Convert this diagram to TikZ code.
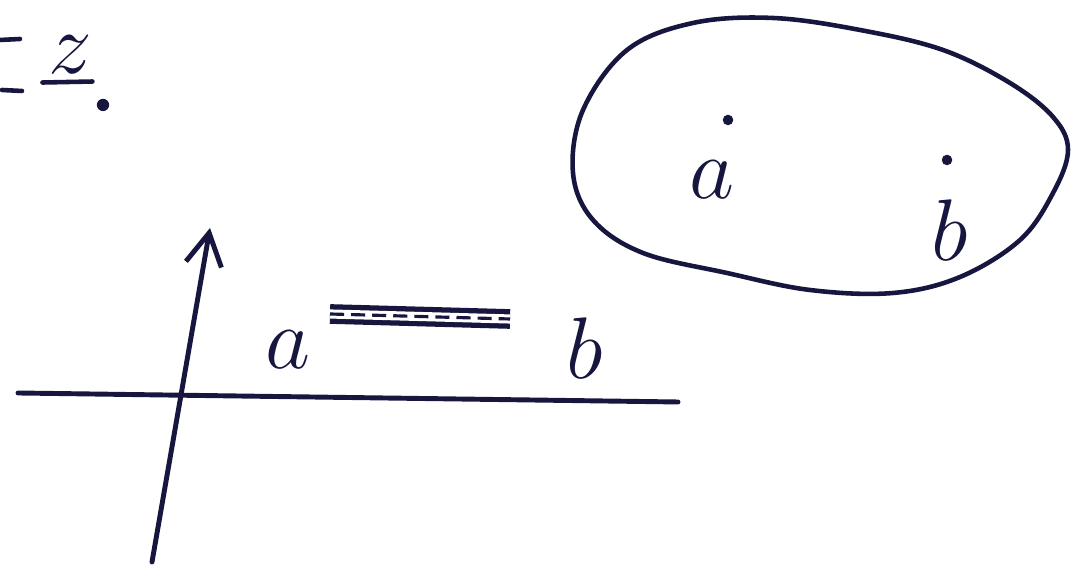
\documentclass[tikz,border=0pt]{standalone}
\usetikzlibrary{arrows.meta}
\definecolor{ink}{RGB}{22,22,62}

\begin{document}
\begin{tikzpicture}[
    pen/.style={draw=ink, line width=1.3pt, line cap=round, line join=round},
    axisline/.style={pen, line width=1.4pt},
    arrow/.style={axisline, -{Straight Barb[length=3.2mm, width=3.6mm]}},
    bar/.style={draw=ink, line width=1.5pt, double=white, double distance=2.6pt},
    hatch/.style={draw=ink, line width=0.9pt, dash pattern=on 4pt off 2pt},
    letter/.style={text=ink, inner sep=0pt, font=\fontsize{26}{30}\selectfont},
    spot/.style={circle, fill=ink, inner sep=0pt, minimum size=3pt},
]
    \useasboundingbox (0,0) rectangle (10.72,5.67);

    % Heading remnant
    \node[letter] (zed) at (0.70,5.12) {$z$};
    \coordinate (m1a) at (0.00,5.27); \coordinate (m1b) at (0.20,5.28);
    \coordinate (m2a) at (0.02,4.77); \coordinate (m2b) at (0.22,4.76);
    \draw[pen] (m1a) -- (m1b);
    \draw[pen] (m2a) -- (m2b);
    \draw[pen] (zed.south west) ++(-0.05,-0.08) -- ++(0.50,0.01);
    \node[spot, minimum size=3.5pt] (stop) at (1.03,4.62) {};

    % Axes
    \coordinate (vbot) at (1.52,0.05);
    \coordinate (vtop) at (2.10,3.39);
    \coordinate (hleft) at (0.18,1.74);
    \coordinate (hright) at (6.78,1.65);
    \draw[arrow] (vbot) -- (vtop);
    \draw[axisline] (hleft) -- (hright);

    % Segment [a,b]
    \coordinate (barA) at (3.30,2.53);
    \coordinate (barB) at (5.10,2.48);
    \draw[bar] (barA) -- (barB);
    \draw[hatch] (barA) -- (barB);
    \node[letter] (la) at (2.88,2.17) {$a$};
    \node[letter] (lb) at (5.85,2.19) {$b$};

    % Region with two points
    \draw[pen] plot[smooth cycle, tension=0.6] coordinates {
        (5.73,3.94) (5.83,4.57) (6.27,5.17) (6.93,5.44) (7.73,5.49)
        (8.60,5.37) (9.43,5.17) (10.10,4.84) (10.53,4.50) (10.68,4.17)
        (10.53,3.74) (10.20,3.27) (9.60,2.90) (8.93,2.74) (8.10,2.77)
        (7.27,2.94) (6.43,3.14) (5.93,3.47)};
    \node[letter] (pa) at (7.12,3.87) {$a$};
    \node[spot] (da) at (7.28,4.47) {};
    \node[letter] (pb) at (9.50,3.37) {$b$};
    \node[spot] (db) at (9.47,4.07) {};
\end{tikzpicture}
\end{document}
